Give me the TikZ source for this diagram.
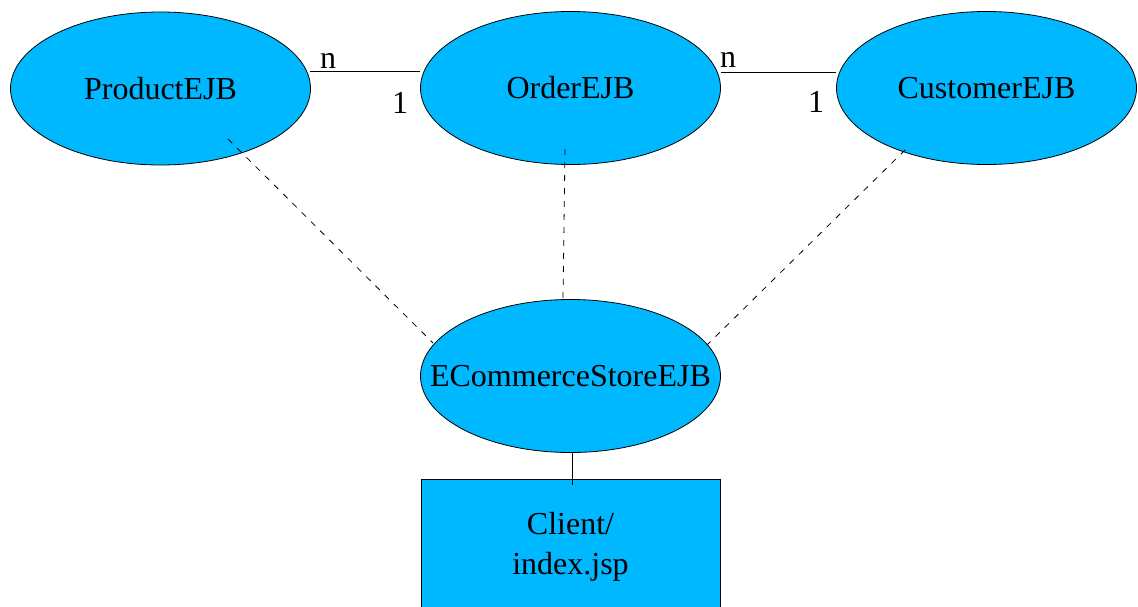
\documentclass[tikz,border=0pt]{standalone}
\usepackage{fontspec}
\setmainfont{Liberation Serif}
\usetikzlibrary{shapes.geometric}
\definecolor{skyfill}{HTML}{00B8FF}
\newcommand{\zw}[1]{\makebox[0pt]{#1}}
\begin{document}
\begin{tikzpicture}[x=1pt,y=-1pt,
  ent/.style={ellipse,draw=black,line width=0.8pt,fill=skyfill,inner sep=0pt,
    minimum width=300pt,minimum height=153pt,font=\fontsize{32}{40}\selectfont},
  box/.style={rectangle,draw=black,line width=0.8pt,fill=skyfill,inner sep=0pt,
    minimum width=299pt,minimum height=150pt},
  rel/.style={line width=0.8pt},
  dep/.style={line width=0.8pt,dash pattern=on 6pt off 7pt},
  card/.style={anchor=base,inner sep=0pt,font=\fontsize{32}{40}\selectfont}]
\useasboundingbox (0,0) rectangle (1138,606);
\node[ent] (p) at (160.5,88.5) {\zw{ProductEJB}};
\node[ent] (o) at (570.5,88) {\zw{OrderEJB}};
\node[ent] (c) at (986.5,88) {\zw{CustomerEJB}};
\node[ent] (s) at (570.5,376) {\zw{ECommerceStoreEJB}};
\node[box,anchor=north] (cl) at (570.5,479) {};
\node[align=center,inner sep=0pt,font=\fontsize{32}{40}\selectfont,anchor=base] (clt) at (570.5,574) {Client/\\index.jsp};
% relations
\coordinate (po1) at (310,71.5);
\coordinate (po2) at (420,71.5);
\coordinate (oc1) at (721,72.5);
\coordinate (oc2) at (836,72.5);
\draw[rel] (po1) -- (po2);
\draw[rel] (oc1) -- (oc2);
\node[card] (n1) at (328,68) {n};
\node[card] (o1) at (400,113) {1};
\node[card] (n2) at (728,67) {n};
\node[card] (o2) at (816,112) {1};
% dependencies
\coordinate (pd) at (228,139);
\coordinate (sp) at (433,343);
\coordinate (od) at (565,149);
\coordinate (so) at (563,299);
\coordinate (cd) at (905,150);
\coordinate (sc) at (707,345);
\draw[dep] (pd) -- (sp);
\draw[dep] (od) -- (so);
\draw[dep] (cd) -- (sc);
\draw[rel] (s.south -| 572,0) -- (572,485);
\end{tikzpicture}
\end{document}
